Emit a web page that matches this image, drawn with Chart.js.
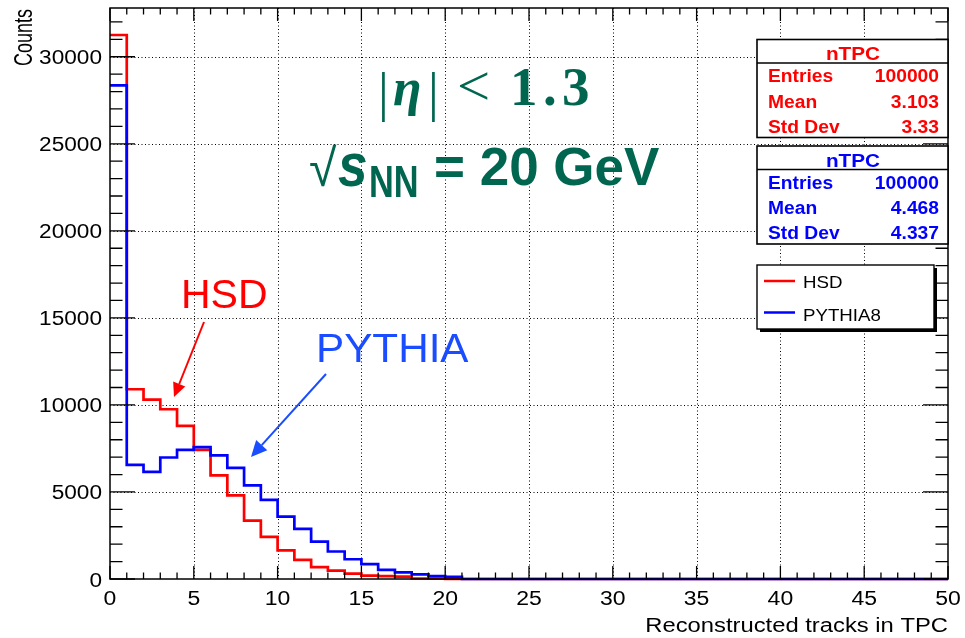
<!DOCTYPE html>
<html lang="en">
<head>
    <meta charset="UTF-8">
    <title>nTPC</title>
    <script src="https://cdn.jsdelivr.net/npm/chart.js"></script>
    <style>
        body {
            margin: 0;
            background: #fff;
        }
        #chart {
            display: block;
        }
    </style>
</head>
<body>
    <canvas id="chart" width="965" height="638"></canvas>

    <script>
        // Bin low edges (width 1) and counts per bin
        const binEdges = [0, 1, 2, 3, 4, 5, 6, 7, 8, 9, 10, 11, 12, 13, 14, 15, 16, 17, 18, 19,
            20, 21, 22, 23, 24, 25, 26, 27, 28, 29, 30, 31, 32, 33, 34, 35, 36, 37, 38, 39,
            40, 41, 42, 43, 44, 45, 46, 47, 48, 49, 50];
        const hsdCounts = [31250, 10900, 10300, 9750, 8800, 7420, 5950, 4800, 3350, 2420,
            1650, 1100, 680, 480, 310, 190, 160, 140, 30, 20,
            10, 0, 0, 0, 0, 0, 0, 0, 0, 0, 0, 0, 0, 0, 0, 0, 0, 0, 0, 0,
            0, 0, 0, 0, 0, 0, 0, 0, 0, 0];
        const pythiaCounts = [28350, 6550, 6150, 6980, 7420, 7580, 7100, 6380, 5380, 4550,
            3580, 2880, 2150, 1580, 1135, 850, 520, 380, 270, 170,
            130, 0, 0, 0, 0, 0, 0, 0, 0, 0, 0, 0, 0, 0, 0, 0, 0, 0, 0, 0,
            0, 0, 0, 0, 0, 0, 0, 0, 0, 0];

        const xTicks = [0, 5, 10, 15, 20, 25, 30, 35, 40, 45, 50];
        const yTicks = [0, 5000, 10000, 15000, 20000, 25000, 30000];
        const xMinorStep = 1;
        const yMinorStep = 1000;
        const yMax = 32800;

        const statLabels = ['Entries', 'Mean', 'Std Dev'];
        const hsdStats = ['100000', '3.103', '3.33'];
        const pythiaStats = ['100000', '4.468', '4.337'];
        const legendNames = ['HSD', 'PYTHIA8'];

        const RED = '#ff0000';
        const BLUE = '#0000ff';
        const GREEN = '#006650';
        const SANS = "'Liberation Sans', Arial, sans-serif";
        const SERIF = "'Liberation Serif', 'Times New Roman', serif";

        // histogram as a stepped line: one point per bin low edge, plus the closing edge
        function histPoints(counts) {
            const pts = counts.map((v, i) => ({ x: binEdges[i], y: v }));
            pts.push({ x: binEdges[counts.length], y: counts[counts.length - 1] });
            return pts;
        }

        // text with a horizontal stretch (the original picture is widened)
        function txt(ctx, s, x, y, font, color, align, kx, ky) {
            ctx.save();
            ctx.translate(x, y);
            ctx.scale(kx || 1, ky || 1);
            ctx.font = font;
            ctx.fillStyle = color;
            ctx.textAlign = align || 'left';
            ctx.textBaseline = 'alphabetic';
            ctx.fillText(s, 0, 0);
            ctx.restore();
        }

        function arrow(ctx, x1, y1, x2, y2, color, headLen, headW) {
            const a = Math.atan2(y2 - y1, x2 - x1);
            const bx = x2 - headLen * Math.cos(a);
            const by = y2 - headLen * Math.sin(a);
            ctx.save();
            ctx.strokeStyle = color;
            ctx.fillStyle = color;
            ctx.lineWidth = 2;
            ctx.beginPath();
            ctx.moveTo(x1, y1);
            ctx.lineTo(bx, by);
            ctx.stroke();
            ctx.beginPath();
            ctx.moveTo(x2, y2);
            ctx.lineTo(bx + headW * Math.sin(a), by - headW * Math.cos(a));
            ctx.lineTo(bx - headW * Math.sin(a), by + headW * Math.cos(a));
            ctx.closePath();
            ctx.fill();
            ctx.restore();
        }

        function statBox(ctx, top, color, values) {
            const left = 757, right = 948, sep = top + 23.5, bottom = top + 98;
            ctx.save();
            ctx.fillStyle = '#fff';
            ctx.fillRect(left, top, right - left, bottom - top);
            ctx.strokeStyle = '#000';
            ctx.lineWidth = 1.6;
            ctx.strokeRect(left, top, right - left, bottom - top);
            ctx.beginPath();
            ctx.moveTo(left, sep);
            ctx.lineTo(right, sep);
            ctx.stroke();
            ctx.restore();
            const font = 'bold 17.5px ' + SANS;
            txt(ctx, 'nTPC', 853, top + 20.5, 'bold 18.5px ' + SANS, color, 'center', 1.12);
            const rows = [top + 42.5, top + 68, top + 93];
            statLabels.forEach((lab, i) => {
                txt(ctx, lab, 768, rows[i], font, color, 'left', 1.1);
                txt(ctx, values[i], 939, rows[i], font, color, 'right', 1.1);
            });
        }

        // dotted grid under the histograms
        const gridPlugin = {
            id: 'rootGrid',
            beforeDatasetsDraw(chart) {
                const { ctx, chartArea: a, scales: { x, y } } = chart;
                ctx.save();
                ctx.strokeStyle = '#000';
                ctx.lineWidth = 1;
                ctx.setLineDash([1, 2.5]);
                xTicks.slice(1, -1).forEach(v => {
                    const px = Math.round(x.getPixelForValue(v)) + 0.5;
                    ctx.beginPath();
                    ctx.moveTo(px, a.top);
                    ctx.lineTo(px, a.bottom);
                    ctx.stroke();
                });
                yTicks.slice(1).forEach(v => {
                    const py = Math.round(y.getPixelForValue(v)) + 0.5;
                    ctx.beginPath();
                    ctx.moveTo(a.left, py);
                    ctx.lineTo(a.right, py);
                    ctx.stroke();
                });
                ctx.restore();
            }
        };

        // frame, inner ticks, labels, stat boxes, legend and notes
        const framePlugin = {
            id: 'rootFrame',
            afterDatasetsDraw(chart) {
                const { ctx, chartArea: a, scales: { x, y } } = chart;
                ctx.save();
                ctx.strokeStyle = '#000';
                ctx.lineWidth = 1.5;
                ctx.strokeRect(a.left, a.top, a.right - a.left, a.bottom - a.top);

                ctx.lineWidth = 1.3;
                ctx.beginPath();
                for (let v = x.min; v <= x.max; v += xMinorStep) {
                    const px = x.getPixelForValue(v);
                    const len = xTicks.includes(v) ? 13 : 6.5;
                    ctx.moveTo(px, a.bottom);
                    ctx.lineTo(px, a.bottom - len);
                    ctx.moveTo(px, a.top);
                    ctx.lineTo(px, a.top + len);
                }
                for (let v = 0; v <= y.max; v += yMinorStep) {
                    const py = y.getPixelForValue(v);
                    const len = yTicks.includes(v) ? 25 : 12.5;
                    ctx.moveTo(a.left, py);
                    ctx.lineTo(a.left + len, py);
                    ctx.moveTo(a.right, py);
                    ctx.lineTo(a.right - len, py);
                }
                ctx.stroke();
                ctx.restore();

                const axFont = '19.5px ' + SANS;
                xTicks.forEach(v => {
                    txt(ctx, String(v), x.getPixelForValue(v), 604.5, axFont, '#000', 'center', 1.18);
                });
                yTicks.forEach(v => {
                    txt(ctx, String(v), 102, y.getPixelForValue(v) + 7.5, axFont, '#000', 'right', 1.16);
                });
                txt(ctx, 'Reconstructed tracks in TPC', a.right, 632, '19.5px ' + SANS, '#000', 'right', 1.22);

                // rotated y title, stretched across like the other axis text
                ctx.save();
                ctx.translate(32, a.top + 1);
                ctx.scale(1.4, 1);
                ctx.rotate(-Math.PI / 2);
                ctx.font = '18px ' + SANS;
                ctx.fillStyle = '#000';
                ctx.textAlign = 'right';
                ctx.fillText('Counts', 0, 0);
                ctx.restore();
            },
            afterDraw(chart) {
                const { ctx } = chart;
                statBox(ctx, 39.5, RED, hsdStats);
                statBox(ctx, 146, BLUE, pythiaStats);

                // legend with shadow
                ctx.save();
                ctx.fillStyle = '#000';
                ctx.fillRect(760, 268, 177, 64);
                ctx.fillStyle = '#fff';
                ctx.fillRect(757, 265, 177, 64);
                ctx.strokeStyle = '#000';
                ctx.lineWidth = 1.4;
                ctx.strokeRect(757, 265, 177, 64);
                ctx.lineWidth = 2.5;
                [[RED, 281], [BLUE, 312.5]].forEach(([c, ly]) => {
                    ctx.strokeStyle = c;
                    ctx.beginPath();
                    ctx.moveTo(764, ly);
                    ctx.lineTo(795, ly);
                    ctx.stroke();
                });
                ctx.restore();
                txt(ctx, legendNames[0], 803, 287.5, '17px ' + SANS, '#000', 'left', 1.1);
                txt(ctx, legendNames[1], 803, 321, '17px ' + SANS, '#000', 'left', 1.1);

                // notes on top of the plot
                txt(ctx, 'HSD', 181, 308, '41px ' + SANS, RED, 'left');
                arrow(ctx, 204, 322, 174, 397, RED, 14, 6.5);
                txt(ctx, 'PYTHIA', 316, 362, '41px ' + SANS, '#1a4dff', 'left', 1.03);
                arrow(ctx, 326, 374, 251, 457, '#1a4dff', 16, 7.5);

                // |eta| < 1.3
                txt(ctx, '|', 378, 110, '54px ' + SERIF, GREEN, 'left');
                txt(ctx, '\u03b7', 393, 105, 'bold italic 52px ' + SERIF, GREEN, 'left');
                txt(ctx, '|', 428, 110, '54px ' + SERIF, GREEN, 'left');
                txt(ctx, '<', 457, 105, '56px ' + SERIF, GREEN, 'left', 1.05);
                txt(ctx, '1', 510, 105, 'bold 55px ' + SERIF, GREEN, 'left');
                txt(ctx, '.', 543, 105, 'bold 55px ' + SERIF, GREEN, 'left');
                txt(ctx, '3', 562, 105, 'bold 55px ' + SERIF, GREEN, 'left');

                // sqrt(s_NN) = 20 GeV
                txt(ctx, '\u221a', 309, 186, '50px ' + SANS, GREEN, 'left', 1, 1.05);
                txt(ctx, 's', 338, 186, 'bold italic 56px ' + SANS, GREEN, 'left', 0.95, 1.1);
                txt(ctx, 'NN', 369, 197, 'bold 44px ' + SANS, GREEN, 'left', 0.78);
                txt(ctx, '= 20 GeV', 434, 185, 'bold 53px ' + SANS, GREEN, 'left');
            }
        };

        new Chart(document.getElementById('chart'), {
            type: 'line',
            data: {
                datasets: [
                    {
                        label: legendNames[0],
                        data: histPoints(hsdCounts),
                        borderColor: RED,
                        borderWidth: 2.7,
                        stepped: true,
                        pointRadius: 0,
                        fill: false,
                        clip: false,
                        order: 2
                    },
                    {
                        label: legendNames[1],
                        data: histPoints(pythiaCounts),
                        borderColor: BLUE,
                        borderWidth: 2.7,
                        stepped: true,
                        pointRadius: 0,
                        fill: false,
                        clip: false,
                        order: 1
                    }
                ]
            },
            options: {
                responsive: false,
                animation: false,
                devicePixelRatio: 1,
                layout: {
                    padding: { left: 110, right: 17, top: 8, bottom: 59 }
                },
                scales: {
                    x: { type: 'linear', min: 0, max: 50, display: false },
                    y: { type: 'linear', min: 0, max: yMax, display: false }
                },
                plugins: {
                    legend: { display: false },
                    tooltip: { enabled: false }
                }
            },
            plugins: [gridPlugin, framePlugin]
        });
    </script>
</body>
</html>
